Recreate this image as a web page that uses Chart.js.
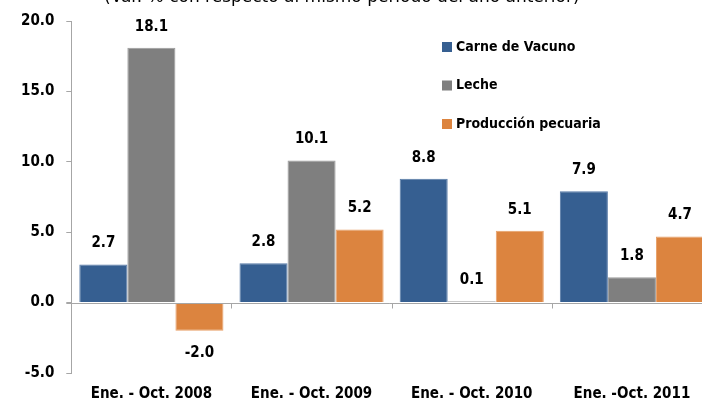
<!DOCTYPE html>
<html>
<head>
<meta charset="utf-8">
<script src="https://cdn.jsdelivr.net/npm/chart.js@4.4.0/dist/chart.umd.min.js"></script>
<style>
  html, body { margin: 0; padding: 0; background: #fff; overflow: hidden; }
  #wrap { width: 712px; height: 412px; }
</style>
</head>
<body>
<div id="wrap"><canvas id="myChart"></canvas></div>
<script>
const periods = ["Ene. - Oct. 2008", "Ene. - Oct. 2009", "Ene. - Oct. 2010", "Ene. -Oct. 2011"];
const carneVacuno = [2.7, 2.8, 8.8, 7.9];
const leche = [18.1, 10.1, 0.1, 1.8];
const produccionPecuaria = [-2.0, 5.2, 5.1, 4.7];
const yTicks = [-5, 0, 5, 10, 15, 20];
const subtitle = "(Var. % con respecto al mismo periodo del año anterior)";

const FONT = "'Liberation Sans Narrow', 'DejaVu Sans Condensed', sans-serif";
const AXIS_GRAY = "#a6a6a6";

// value labels above / below each bar
const barLabels = {
  id: "barLabels",
  afterDatasetsDraw(chart) {
    const ctx = chart.ctx;
    ctx.save();
    ctx.font = "bold 15px " + FONT;
    ctx.fillStyle = "#000";
    ctx.textAlign = "center";
    ctx.textBaseline = "middle";
    chart.data.datasets.forEach((ds, i) => {
      chart.getDatasetMeta(i).data.forEach((bar, j) => {
        const v = ds.data[j];
        const y = v >= 0 ? bar.y - 21 : bar.y + 22;
        ctx.fillText(v.toFixed(1), bar.x, y);
      });
    });
    ctx.restore();
  }
};

// zero line with category boundary ticks, legend box and cut subtitle
const extras = {
  id: "extras",
  afterDraw(chart) {
    const ctx = chart.ctx;
    const x = chart.scales.x, y = chart.scales.y;
    const area = chart.chartArea;
    const y0 = Math.round(y.getPixelForValue(0)) + 0.5;
    ctx.save();
    ctx.strokeStyle = AXIS_GRAY;
    ctx.lineWidth = 1;
    ctx.beginPath();
    ctx.moveTo(area.left - 5, y0);
    ctx.lineTo(area.right, y0);
    const half = (x.getPixelForValue(1) - x.getPixelForValue(0)) / 2;
    for (let i = 1; i <= periods.length; i++) {
      const bx = Math.round(x.getPixelForValue(i) - half) + 0.5;
      ctx.moveTo(bx, y0);
      ctx.lineTo(bx, y0 + 5);
    }
    ctx.stroke();

    // legend
    ctx.font = "bold 14px " + FONT;
    ctx.textBaseline = "middle";
    ctx.textAlign = "left";
    chart.data.datasets.forEach((ds, i) => {
      const ly = 47 + i * 38.5;
      ctx.fillStyle = ds.backgroundColor;
      ctx.fillRect(442, ly - 5, 10, 10);
      ctx.fillStyle = "#000";
      ctx.fillText(ds.label, 456, ly);
    });

    // subtitle, cut at the top edge
    ctx.font = "17px 'DejaVu Sans', sans-serif";
    ctx.textAlign = "left";
    ctx.textBaseline = "alphabetic";
    ctx.fillText(subtitle, 104, 2);
    ctx.restore();
  }
};

new Chart(document.getElementById("myChart"), {
  type: "bar",
  data: {
    labels: periods,
    datasets: [
      { label: "Carne de Vacuno", data: carneVacuno, backgroundColor: "#365f91", borderColor: "#5679a6", borderWidth: 1 },
      { label: "Leche", data: leche, backgroundColor: "#7f7f7f", borderColor: "#9a9a9a", borderWidth: 1 },
      { label: "Producción pecuaria", data: produccionPecuaria, backgroundColor: "#dc843f", borderColor: "#e8a068", borderWidth: 1 }
    ]
  },
  options: {
    responsive: true,
    maintainAspectRatio: false,
    animation: false,
    layout: { padding: { left: 9, right: 0, top: 19, bottom: 5 } },
    datasets: { bar: { categoryPercentage: 0.9, barPercentage: 1.0 } },
    plugins: {
      legend: { display: false },
      tooltip: { enabled: false }
    },
    scales: {
      x: {
        grid: { display: false },
        border: { display: false },
        ticks: {
          color: "#000",
          font: { family: FONT, size: 15, weight: "bold" },
          padding: 4,
          maxRotation: 0
        }
      },
      y: {
        min: -5,
        max: 20,
        afterBuildTicks(scale) { scale.ticks = yTicks.map(v => ({ value: v })); },
        grid: { drawOnChartArea: false, drawTicks: true, tickLength: 5, color: AXIS_GRAY },
        border: { display: true, color: AXIS_GRAY },
        ticks: {
          color: "#000",
          font: { family: FONT, size: 15, weight: "bold" },
          padding: 12,
          callback: v => v.toFixed(1)
        }
      }
    }
  },
  plugins: [barLabels, extras]
});
</script>
</body>
</html>
